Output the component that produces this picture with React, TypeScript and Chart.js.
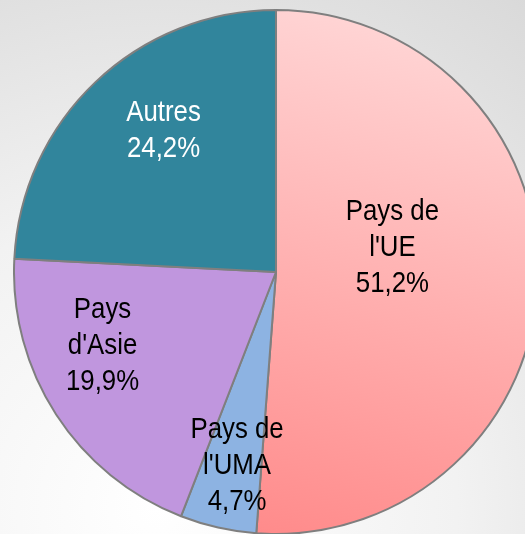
import React, { useEffect, useRef } from "react";
import { Chart, registerables } from "chart.js";

Chart.register(...registerables);

const categories = ["Pays de l'UE", "Pays de l'UMA", "Pays d'Asie", "Autres"];
const labelLines = [["Pays de", "l'UE"], ["Pays de", "l'UMA"], ["Pays", "d'Asie"], ["Autres"]];
const shares = [51.2, 4.7, 19.9, 24.2];
const valueLabels = ["51,2%", "4,7%", "19,9%", "24,2%"];

const sliceColors = ["#ff9f9f", "#8db3e2", "#c096de", "#31859c"];
const textColors = ["#000000", "#000000", "#000000", "#ffffff"];
// label placement: [fraction of radius, angle offset in degrees]
const labelPlace: [number, number][] = [
  [0.454, -14],
  [0.753, -1.4],
  [0.719, 10],
  [0.69, 5.1],
];

const CANVAS = 526;
const LEFT = 13;
const TOP = 9;

const labelPlugin = {
  id: "sliceLabels",
  afterDatasetsDraw(chart: any) {
    const ctx = chart.ctx as CanvasRenderingContext2D;
    const meta = chart.getDatasetMeta(0);
    meta.data.forEach((arc: any, i: number) => {
      const p = arc.getProps(["x", "y", "startAngle", "endAngle", "outerRadius"], true);
      const [frac, offDeg] = labelPlace[i];
      const mid = (p.startAngle + p.endAngle) / 2 + (offDeg * Math.PI) / 180;
      const cx = p.x + Math.cos(mid) * p.outerRadius * frac;
      const cy = p.y + Math.sin(mid) * p.outerRadius * frac;
      const lines = [...labelLines[i], valueLabels[i]];
      const lh = 36;
      ctx.save();
      ctx.font = '30px "Liberation Sans", Arial, sans-serif';
      ctx.fillStyle = textColors[i];
      ctx.textAlign = "center";
      ctx.textBaseline = "middle";
      lines.forEach((t, k) => {
        const ly = cy + (k - (lines.length - 1) / 2) * lh;
        ctx.save();
        ctx.translate(cx, ly);
        ctx.scale(0.86, 1);
        ctx.fillText(t, 0, 0);
        ctx.restore();
      });
      ctx.restore();
    });
  },
};

export default function App() {
  const ref = useRef<HTMLCanvasElement | null>(null);

  useEffect(() => {
    if (!ref.current) return;
    const chart = new Chart(ref.current, {
      type: "pie",
      data: {
        labels: categories,
        datasets: [
          {
            data: shares,
            backgroundColor: (c: any) => {
              const i = c.dataIndex;
              if (i === 0) {
                const g = c.chart.ctx.createLinearGradient(400 - LEFT, 10 - TOP, 265 - LEFT, 534 - TOP);
                g.addColorStop(0, "#ffd7d7");
                g.addColorStop(1, "#ff8b8b");
                return g;
              }
              return sliceColors[i];
            },
            borderColor: "#7f7f7f",
            borderWidth: 2,
          },
        ],
      },
      options: {
        responsive: false,
        animation: false,
        layout: { padding: 0 },
        plugins: {
          legend: { display: false },
          tooltip: { enabled: false },
        },
      },
      plugins: [labelPlugin],
    });
    return () => chart.destroy();
  }, []);

  return (
    <div
      style={{
        position: "fixed",
        left: 0,
        top: 0,
        width: 525,
        height: 534,
        overflow: "hidden",
        background:
          "radial-gradient(circle 630px at 157px 507px, #ffffff 0px, #f2f2f2 300px, #e0e0e0 530px, #d9d9d9 630px)",
      }}
    >
      <canvas
        ref={ref}
        width={CANVAS}
        height={CANVAS}
        style={{ position: "absolute", left: LEFT, top: TOP, width: CANVAS, height: CANVAS }}
      />
    </div>
  );
}
